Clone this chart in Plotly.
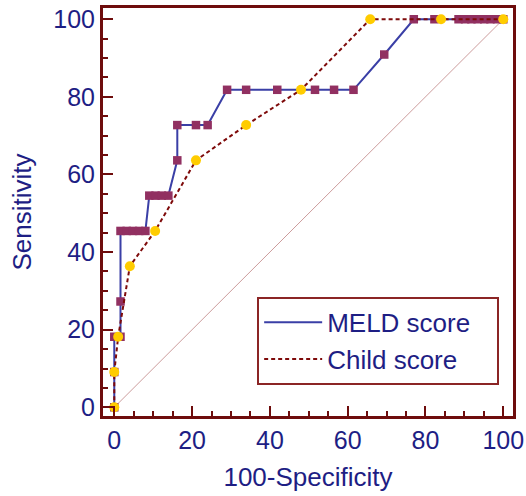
import plotly.graph_objects as go

# ROC data
meld_fpr = [0, 0, 0, 1.6, 1.6, 1.6, 3.2, 4.8, 6.4, 8.0, 9.0, 10.6, 12.2, 13.9,
            16.2, 16.2, 21.0, 24.0, 29.0, 33.9, 41.9, 51.6, 56.5, 61.5, 69.4,
            77.0, 82.3, 88.5, 90.2, 91.8, 93.4, 95.1, 96.7, 98.4, 100]
meld_sens = [0, 9.09, 18.18, 18.18, 27.27, 45.45, 45.45, 45.45, 45.45, 45.45,
             54.55, 54.55, 54.55, 54.55, 63.64, 72.73, 72.73, 72.73, 81.82,
             81.82, 81.82, 81.82, 81.82, 81.82, 90.91, 100, 100, 100, 100, 100,
             100, 100, 100, 100, 100]

child_fpr = [0, 0, 1.0, 4.0, 10.5, 21.0, 33.9, 48.0, 65.8, 84.0, 100]
child_sens = [0, 9.09, 18.18, 36.36, 45.45, 63.64, 72.73, 81.82, 100, 100, 100]

diag = [0, 100]
tick_vals = [0, 20, 40, 60, 80, 100]

NAVY = "#1E1E84"
FRAME = "#6E0C0C"
FONT = "Liberation Sans, Arial, sans-serif"
PAD = "\u00a0\u00a0\u00a0"

fig = go.Figure()
fig.add_trace(go.Scatter(x=diag, y=diag, mode="lines",
                         line=dict(color="#CC9C9C", width=1), showlegend=False,
                         hoverinfo="skip"))
fig.add_trace(go.Scatter(x=meld_fpr, y=meld_sens, mode="lines", name="MELD score" + PAD,
                         line=dict(color="#3A3FA6", width=2)))
fig.add_trace(go.Scatter(x=meld_fpr, y=meld_sens, mode="markers", showlegend=False,
                         marker=dict(symbol="square", size=8.5, color="#913061",
                                     line=dict(width=0))))
fig.add_trace(go.Scatter(x=child_fpr, y=child_sens, mode="lines", name="Child score" + PAD,
                         line=dict(color="#7E0A0A", width=2, dash="4px,3px")))
fig.add_trace(go.Scatter(x=child_fpr, y=child_sens, mode="markers", showlegend=False,
                         marker=dict(symbol="circle", size=10, color="#FFCC00",
                                     line=dict(width=0))))

axis_common = dict(
    showgrid=False, zeroline=False, automargin=False,
    showline=True, linecolor=FRAME, linewidth=3, mirror=True,
    ticks="inside", ticklen=10, tickwidth=2, tickcolor=FRAME,
    tickvals=tick_vals,
    tickfont=dict(family=FONT, size=25, color=NAVY),
    minor=dict(ticks="inside", ticklen=5, tickwidth=2, tickcolor=FRAME, dtick=5),
)

fig.update_layout(
    width=526, height=496,
    margin=dict(l=103, r=13, t=8, b=80),
    paper_bgcolor="white", plot_bgcolor="white",
    font=dict(family=FONT, color=NAVY),
    xaxis=dict(range=[-2.9, 102.5],
               title=dict(text="100-Specificity", font=dict(family=FONT, size=26, color=NAVY)),
               **axis_common),
    yaxis=dict(range=[-2.24, 102.9],
               title=dict(text="Sensitivity", font=dict(family=FONT, size=26, color=NAVY)),
               **axis_common),
    legend=dict(x=0.376, y=0.292, xanchor="left", yanchor="top",
                bgcolor="white", bordercolor="#8B2525", borderwidth=2,
                font=dict(family=FONT, size=26, color=NAVY),
                itemwidth=58, tracegroupgap=0),
    showlegend=True,
)

fig.write_html("out.html", config={"displayModeBar": False},
               post_script="document.body.style.margin='0';")
